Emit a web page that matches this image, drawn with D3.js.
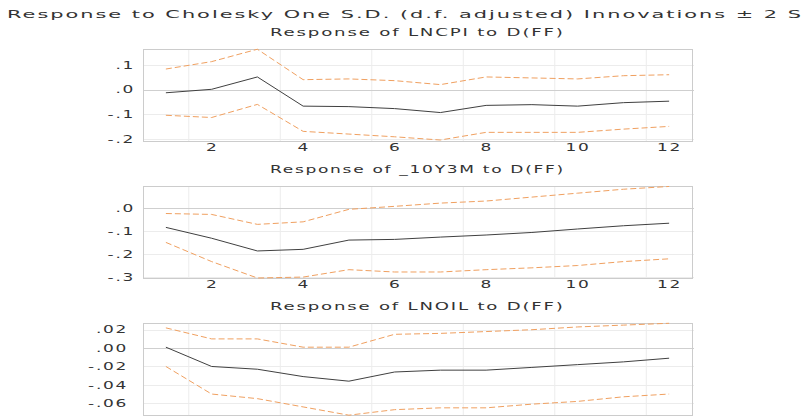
<!DOCTYPE html>
<html>
<head>
<meta charset="utf-8">
<script src="https://cdn.jsdelivr.net/npm/d3@7"></script>
<style>
  body { margin: 0; background: #fff; }
  text { font-family: "DejaVu Sans", sans-serif; fill: #333; }
</style>
</head>
<body>
<div id="chart"></div>
<script>
const width = 803, height = 416;
const plotLeft = 143, plotRight = 692, plotHeight = 92;

const title = "Response to Cholesky One S.D. (d.f. adjusted) Innovations \u00b1 2 S.E.";
const periods = [1, 2, 3, 4, 5, 6, 7, 8, 9, 10, 11, 12];
const xTicks = [2, 4, 6, 8, 10, 12];
const xGrid = [1.5, 3.5, 5.5, 7.5, 9.5, 11.5];

// Response of LNCPI to D(FF)
const lncpiResp  = [-0.013, 0.001, 0.051, -0.067, -0.069, -0.077, -0.093, -0.064, -0.061, -0.067, -0.053, -0.047];
const lncpiUpper = [0.083, 0.113, 0.163, 0.040, 0.043, 0.036, 0.020, 0.051, 0.047, 0.043, 0.056, 0.060];
const lncpiLower = [-0.104, -0.113, -0.060, -0.169, -0.180, -0.191, -0.204, -0.173, -0.173, -0.173, -0.160, -0.149];
const lncpiTicks = [0.1, 0, -0.1, -0.2];
const lncpiTickLabels = [".1", ".0", "-.1", "-.2"];

// Response of _10Y3M to D(FF)
const tsResp  = [-0.084, -0.131, -0.186, -0.179, -0.139, -0.136, -0.126, -0.117, -0.106, -0.091, -0.077, -0.066];
const tsUpper = [-0.024, -0.028, -0.071, -0.060, -0.006, 0.007, 0.021, 0.030, 0.047, 0.064, 0.081, 0.093];
const tsLower = [-0.149, -0.232, -0.303, -0.299, -0.267, -0.277, -0.277, -0.267, -0.259, -0.249, -0.232, -0.220];
const tsTicks = [0, -0.1, -0.2, -0.3];
const tsTickLabels = [".0", "-.1", "-.2", "-.3"];

// Response of LNOIL to D(FF)
const oilResp  = [0.001, -0.020, -0.023, -0.031, -0.036, -0.026, -0.024, -0.024, -0.021, -0.018, -0.015, -0.011];
const oilUpper = [0.022, 0.010, 0.010, 0.001, 0.001, 0.015, 0.016, 0.018, 0.020, 0.023, 0.025, 0.027];
const oilLower = [-0.020, -0.050, -0.055, -0.064, -0.073, -0.067, -0.065, -0.065, -0.061, -0.058, -0.053, -0.050];
const oilTicks = [0.02, 0, -0.02, -0.04, -0.06];
const oilTickLabels = [".02", ".00", "-.02", "-.04", "-.06"];

const panels = [
  {name: "Response of LNCPI to D(FF)", resp: lncpiResp, upper: lncpiUpper, lower: lncpiLower,
   ticks: lncpiTicks, labels: lncpiTickLabels, domain: [-0.208, 0.164], top: 49, labelGap: 8, xLabels: true},
  {name: "Response of _10Y3M to D(FF)", resp: tsResp, upper: tsUpper, lower: tsLower,
   ticks: tsTicks, labels: tsTickLabels, domain: [-0.303, 0.095], top: 186, labelGap: 8, xLabels: true},
  {name: "Response of LNOIL to D(FF)", resp: oilResp, upper: oilUpper, lower: oilLower,
   ticks: oilTicks, labels: oilTickLabels, domain: [-0.0728, 0.0273], top: 323, labelGap: 15, xLabels: false}
];

const svg = d3.select("#chart").append("svg")
  .attr("width", width)
  .attr("height", height);

// stretched text, the way the original renders it
const SX = 1.7;
function wide(sel) {
  return sel.style("font-size", "10px").style("letter-spacing", "1px");
}

// main title (runs off the right edge like the original)
const titleText = svg.append("text").text(title)
  .style("font-size", "10.5px").style("letter-spacing", "1px");
const probe = svg.append("text").text("Response to Cholesky One S.D. (d.f. adjusted) Innovations \u00b1 2 ")
  .style("font-size", "10.5px").style("letter-spacing", "1px");
const tsx = (780 - 7) / probe.node().getComputedTextLength();
probe.remove();
titleText.attr("transform", `translate(7,17.5) scale(${tsx},1)`);

const x = d3.scaleLinear().domain([0.5, 12.5]).range([plotLeft, plotRight]);

panels.forEach(p => {
  const y = d3.scaleLinear().domain(p.domain).range([p.top + plotHeight, p.top]);
  const g = svg.append("g");

  // subtitle
  const sub = wide(g.append("text").text(p.name));
  const subW = sub.node().getComputedTextLength();
  const ssx = 295 / subW;
  sub.attr("transform", `translate(${(plotLeft + plotRight) / 2 - subW * ssx / 2},${p.top - 13}) scale(${ssx},1)`);

  // grid
  g.append("g").selectAll("line").data(xGrid).join("line")
    .attr("x1", d => x(d)).attr("x2", d => x(d))
    .attr("y1", p.top).attr("y2", p.top + plotHeight)
    .attr("stroke", "#ececec");
  g.append("g").selectAll("line").data(p.ticks).join("line")
    .attr("x1", plotLeft).attr("x2", plotRight + 2)
    .attr("y1", d => Math.round(y(d)) + 0.5).attr("y2", d => Math.round(y(d)) + 0.5)
    .attr("stroke", d => d === 0 ? "#cfcfcf" : "#ececec");

  // frame
  g.append("rect")
    .attr("x", plotLeft + 0.5).attr("y", p.top + 0.5)
    .attr("width", plotRight - plotLeft).attr("height", plotHeight)
    .attr("fill", "none").attr("stroke", "#cccccc");

  // y axis labels
  const yAxis = g.append("g")
    .attr("transform", `translate(${plotLeft},0)`)
    .call(d3.axisLeft(y).tickValues(p.ticks).tickSize(0).tickPadding(p.labelGap)
      .tickFormat((d, i) => p.labels[i]));
  yAxis.select(".domain").remove();
  yAxis.selectAll("text").call(wide)
    .attr("x", -p.labelGap / SX)
    .attr("transform", `scale(${SX},1)`)
    .attr("fill", "#333");

  // x axis labels
  if (p.xLabels) {
    const xAxis = g.append("g")
      .attr("transform", `translate(0,${p.top + plotHeight})`)
      .call(d3.axisBottom(x).tickValues(xTicks).tickSize(0).tickFormat(d3.format("d")));
    xAxis.select(".domain").remove();
    xAxis.selectAll("text").call(wide)
      .attr("y", 10).attr("dy", 0)
      .attr("transform", `scale(${SX},1)`)
      .attr("fill", "#333");
  }

  const line = d3.line().x((d, i) => x(periods[i])).y(d => y(d));

  g.append("path").datum(p.upper).attr("d", line)
    .attr("fill", "none").attr("stroke", "#f0a060").attr("stroke-width", 1)
    .attr("stroke-dasharray", "6,3");
  g.append("path").datum(p.lower).attr("d", line)
    .attr("fill", "none").attr("stroke", "#f0a060").attr("stroke-width", 1)
    .attr("stroke-dasharray", "6,3");
  g.append("path").datum(p.resp).attr("d", line)
    .attr("fill", "none").attr("stroke", "#404040").attr("stroke-width", 1);
});
</script>
</body>
</html>
